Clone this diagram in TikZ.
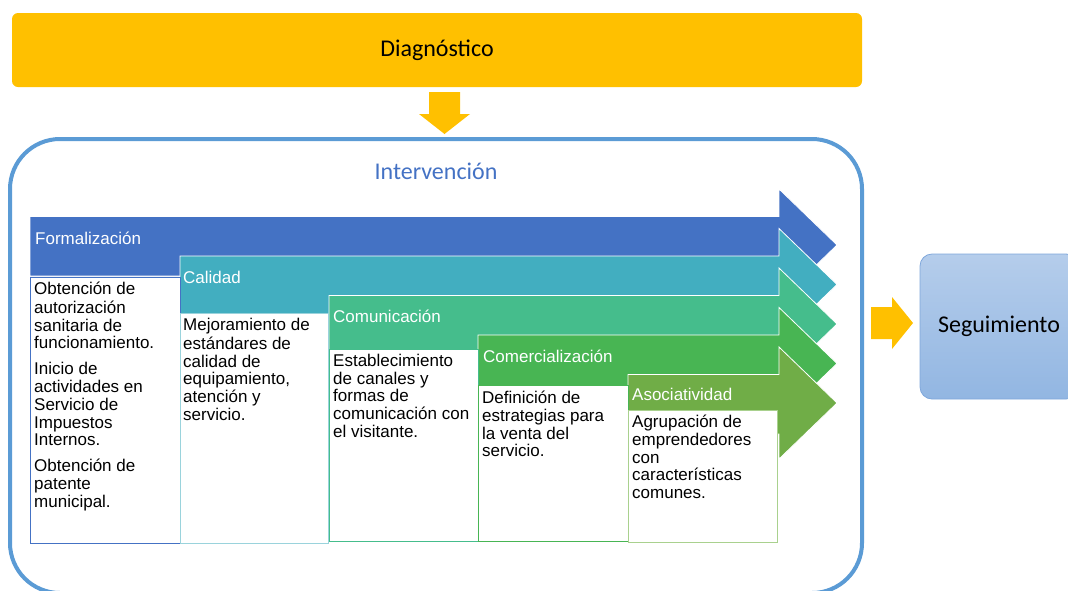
\documentclass[tikz,border=0pt]{standalone}
\usepackage{fontspec}
\setmainfont{Liberation Sans}
\newfontfamily\calibrifont{Carlito}
\definecolor{diagyel}{HTML}{FFC000}
\definecolor{intblue}{HTML}{5B9BD5}
\definecolor{inttxt}{HTML}{4472C4}
\definecolor{cformal}{HTML}{4472C4}
\definecolor{ccalid}{HTML}{42AEC0}
\definecolor{ccomun}{HTML}{45BD8C}
\definecolor{ccomer}{HTML}{48B553}
\definecolor{casoc}{HTML}{70AD47}
\definecolor{bcalid}{HTML}{9AD3DC}
\definecolor{basoc}{HTML}{A9D18E}
\definecolor{segtop}{HTML}{B5CDEB}
\definecolor{segbot}{HTML}{92B6E2}
\definecolor{segline}{HTML}{7FA7DB}
\newcommand{\procarrow}[3]{%
  \fill[#3, draw=white, line width=0.8pt] (#1,#2-28.5) -- (779,#2-28.5) -- (779,#2-56) -- (837,#2) -- (779,#2+56) -- (779,#2+31) -- (#1,#2+31) -- cycle;}
\begin{document}
\begin{tikzpicture}[x=1pt,y=-1pt,
  bigtxt/.style={font=\calibrifont\fontsize{24}{28}\selectfont},
  headtxt/.style={anchor=base west, inner sep=0pt, text=white, font=\fontsize{17}{17.7}\selectfont},
  bodytxt/.style={anchor=north west, inner sep=0pt, align=left, text=black, font=\fontsize{17}{17.7}\selectfont},
  wbox/.style={fill=white, line width=0.8pt}
]
\useasboundingbox (0,0) rectangle (1068,590);

% Diagnostico
\node[bigtxt, fill=diagyel, rounded corners=6pt, minimum width=850pt, minimum height=74pt, inner sep=0pt] (diag) at (437,50) {Diagn\'ostico};

% down arrow
\fill[diagyel] (429,92) -- (460,92) -- (460,114) -- (470,114) -- (444.5,134) -- (419,114) -- (429,114) -- cycle;

% Intervencion frame
\node[draw=intblue, line width=4pt, rounded corners=50pt, minimum width=852pt, minimum height=454pt, inner sep=0pt] (interv) at (436,366) {};
\node[bigtxt, text=inttxt, inner sep=0pt] (intt) at (436,171) {Intervenci\'on};

% right arrow
\fill[diagyel] (871,307) -- (892,307) -- (892,297) -- (913,323) -- (892,349) -- (892,339) -- (871,339) -- cycle;

% Seguimiento
\node[bigtxt, draw=segline, line width=0.8pt, top color=segtop, bottom color=segbot, rounded corners=12pt, minimum width=158pt, minimum height=145pt, inner sep=0pt] (seg) at (999,326.5) {Seguimiento};

% process arrows
\procarrow{30}{245}{cformal}
\procarrow{180}{284.5}{ccalid}
\procarrow{329}{324}{ccomun}
\procarrow{478}{363.5}{ccomer}
\procarrow{628}{403}{casoc}

% white boxes
\draw[wbox, draw=cformal] (30,277) rectangle (180,543);
\draw[wbox, draw=bcalid] (180,313) rectangle (328,543);
\draw[wbox, draw=ccomun] (329,349) rectangle (478,541);
\draw[wbox, draw=ccomer] (478,385) rectangle (628,541);
\draw[wbox, draw=basoc] (628,410) rectangle (777,542);

% headers
\node[headtxt] (h1) at (35,244) {Formalizaci\'on};
\node[headtxt] (h2) at (183,283) {Calidad};
\node[headtxt] (h3) at (333,322) {Comunicaci\'on};
\node[headtxt] (h4) at (483,362) {Comercializaci\'on};
\node[headtxt] (h5) at (632,400) {Asociatividad};

% bodies
\node[bodytxt] (b1) at (34,282) {\strut Obtenci\'on de\\autorizaci\'on\\sanitaria de\\funcionamiento.\\[8.3pt]Inicio de\\actividades en\\Servicio de\\Impuestos\\Internos.\\[8.3pt]Obtenci\'on de\\patente\\municipal.};
\node[bodytxt] (b2) at (183,318) {\strut Mejoramiento de\\est\'andares de\\calidad de\\equipamiento,\\atenci\'on y\\servicio.};
\node[bodytxt] (b3) at (333,354) {\strut Establecimiento\\de canales y\\formas de\\comunicaci\'on con\\el visitante.};
\node[bodytxt] (b4) at (482,391) {\strut Definici\'on de\\estrategias para\\la venta del\\servicio.};
\node[bodytxt] (b5) at (632,415) {\strut Agrupaci\'on de\\emprendedores\\con\\caracter\'isticas\\comunes.};
\end{tikzpicture}
\end{document}
